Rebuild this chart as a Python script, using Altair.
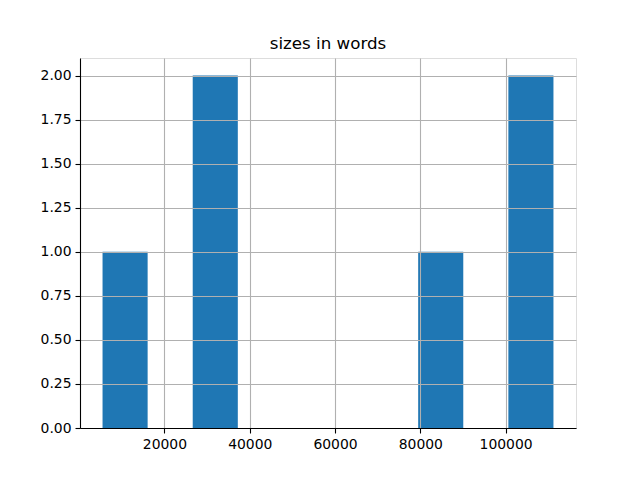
import altair as alt
import pandas as pd

bin_start = [5482, 16056, 26630, 37204, 47779, 58353, 68927, 79501, 90075, 100650]
bin_end = [16056, 26630, 37204, 47779, 58353, 68927, 79501, 90075, 100650, 111224]
counts = [1, 0, 2, 0, 0, 0, 0, 1, 0, 2]
x_ticks = [20000, 40000, 60000, 80000, 100000]
y_ticks = [0.0, 0.25, 0.5, 0.75, 1.0, 1.25, 1.5, 1.75, 2.0]

df = pd.DataFrame({"start": bin_start, "end": bin_end, "count": counts})

font = "DejaVu Sans"

chart = (
    alt.Chart(df)
    .mark_bar(color="#1f77b4", binSpacing=0, stroke=None, orient="vertical")
    .encode(
        x=alt.X(
            "start:Q",
            scale=alt.Scale(domain=[195, 116511], nice=False, zero=False, padding=0),
            axis=alt.Axis(
                values=x_ticks,
                format="d",
                title=None,
                grid=True,
                gridColor="#b0b0b0",
                gridWidth=1.1,
                domainColor="black",
                domainWidth=1.1,
                tickColor="black",
                tickWidth=1.1,
                tickSize=5,
                labelPadding=4,
                labelFont=font,
                labelFontSize=13.9,
                labelColor="black",
                zindex=1,
            ),
        ),
        x2="end:Q",
        y=alt.Y(
            "count:Q",
            scale=alt.Scale(domain=[0, 2.1], nice=False, padding=0),
            axis=alt.Axis(
                values=y_ticks,
                format=".2f",
                title=None,
                grid=True,
                gridColor="#b0b0b0",
                gridWidth=1.1,
                domainColor="black",
                domainWidth=1.1,
                tickColor="black",
                tickWidth=1.1,
                tickSize=5,
                labelPadding=4,
                labelFont=font,
                labelFontSize=13.9,
                labelColor="black",
                zindex=1,
            ),
        ),
        y2=alt.datum(0),
    )
    .properties(
        width=496,
        height=370,
        title=alt.TitleParams(
            "sizes in words",
            font=font,
            fontSize=16.7,
            fontWeight="normal",
            color="black",
            anchor="middle",
            baseline="alphabetic",
            frame="group",
            offset=-8,
        ),
        autosize=alt.AutoSizeParams(type="none"),
        padding={"left": 72, "top": 50, "right": 56, "bottom": 45},
    )
    .configure_view(stroke="black", strokeWidth=1.1)
    .configure(background="white")
)

chart.save("out.html", embed_options={"renderer": "svg", "actions": False})
